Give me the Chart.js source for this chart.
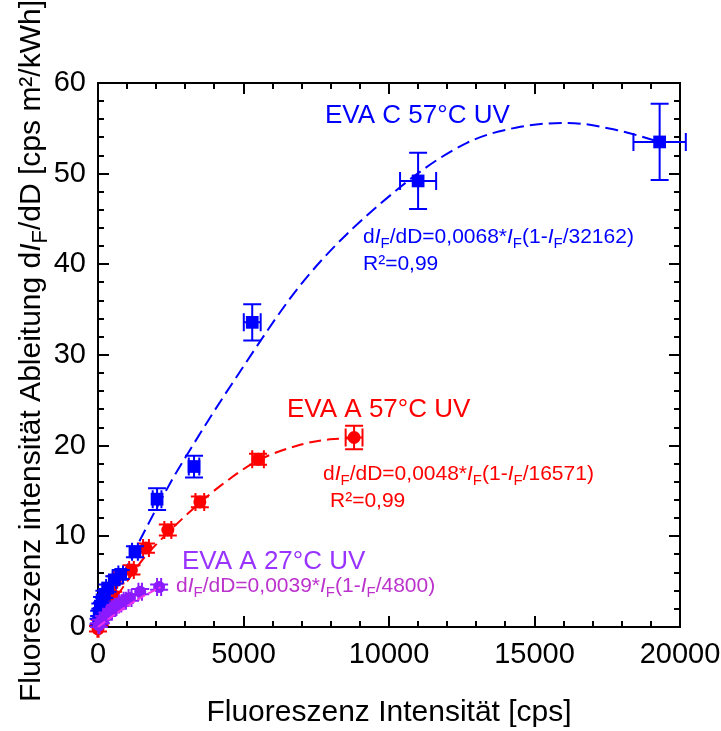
<!DOCTYPE html>
<html>
<head>
<meta charset="utf-8">
<script src="https://cdn.jsdelivr.net/npm/chart.js@4.4.1/dist/chart.umd.min.js"></script>
<style>
  html, body { margin: 0; padding: 0; background: #fff; }
</style>
</head>
<body>
<canvas id="chart" width="721" height="731"></canvas>
<script>
// EVA C 57°C UV (squares)
const blueX = [20, 40, 80, 140, 220, 330, 560, 780, 1270, 2030, 3300, 5300, 11000, 19300];
const blueY = [0.6, 1.5, 2.3, 3.0, 3.6, 4.3, 5.2, 5.8, 8.3, 14.1, 17.7, 33.6, 49.2, 53.5];
const blueXErr = [10, 15, 20, 30, 40, 50, 60, 80, 100, 150, 180, 290, 620, 900];
const blueYErr = [0.3, 0.3, 0.3, 0.3, 0.4, 0.4, 0.4, 0.5, 0.6, 1.2, 1.2, 2.0, 3.1, 4.2];

// EVA A 57°C UV (circles)
const redX = [0, 60, 170, 300, 520, 600, 1150, 1650, 2400, 3500, 5500, 8800];
const redY = [-0.2, 0.5, 1.2, 2.1, 3.5, 5.2, 6.3, 8.7, 10.7, 13.8, 18.5, 20.9];
const redXErr = [20, 20, 30, 40, 50, 60, 80, 100, 120, 150, 200, 290];
const redYErr = [0.3, 0.3, 0.3, 0.3, 0.4, 0.4, 0.5, 0.5, 0.6, 0.6, 0.6, 1.3];

// EVA A 27°C UV (circles)
const purpleX = [30, 100, 200, 320, 450, 600, 760, 920, 1100, 1450, 2100];
const purpleY = [0.2, 0.6, 1.0, 1.4, 1.8, 2.2, 2.6, 2.9, 3.2, 3.9, 4.4];
const purpleXErr = [20, 20, 25, 30, 30, 35, 40, 40, 50, 60, 70];
const purpleYErr = [0.2, 0.2, 0.2, 0.2, 0.2, 0.25, 0.25, 0.25, 0.3, 0.3, 0.3];

// fitted curves
const blueFitX = [0, 1100, 2470, 3060, 4640, 7180, 10380, 12680, 14400, 16120, 17840, 19300];
const blueFitY = [0, 7.4, 15.8, 19.0, 27.0, 38.6, 48.5, 53.4, 55.1, 55.6, 54.8, 53.5];
const redFitX = [0, 650, 1170, 1550, 2370, 3500, 4260, 5460, 6840, 7970, 8800];
const redFitY = [0, 3.4, 5.8, 7.5, 10.3, 13.7, 15.7, 18.3, 20.0, 20.7, 20.8];
const purpleFitX = [0, 500, 1000, 1500, 2150];
const purpleFitY = [0, 1.2, 2.3, 3.3, 4.4];

const FAM = '"Liberation Sans", Arial, sans-serif';

const zip = (xs, ys) => xs.map((x, i) => ({ x: x, y: ys[i] }));

const curve = (xs, ys, color, dash, order) => ({
    type: 'line',
    data: zip(xs, ys),
    borderColor: color,
    borderWidth: 2,
    borderDash: dash,
    pointRadius: 0,
    fill: false,
    cubicInterpolationMode: 'monotone',
    clip: false,
    order: order
});

const points = (xs, ys, ex, ey, color, style, r, order) => ({
    type: 'scatter',
    data: zip(xs, ys),
    errX: ex,
    errY: ey,
    backgroundColor: color,
    borderColor: color,
    borderWidth: 0,
    pointStyle: style,
    pointRadius: r,
    clip: false,
    order: order
});

// draws text with italic / subscript runs
function drawRuns(ctx, runs, x, y, size, color, align) {
    const subSize = Math.round(size * 0.72);
    const fontFor = st => st === 'i' ? `italic ${size}px ${FAM}` : st === 's' ? `${subSize}px ${FAM}` : `${size}px ${FAM}`;
    let total = 0;
    runs.forEach(([t, st]) => { ctx.font = fontFor(st); total += ctx.measureText(t).width; });
    let cx = align === 'center' ? x - total / 2 : x;
    ctx.fillStyle = color;
    ctx.textAlign = 'left';
    ctx.textBaseline = 'alphabetic';
    runs.forEach(([t, st]) => {
        ctx.font = fontFor(st);
        ctx.fillText(t, cx, st === 's' ? y + size * 0.22 : y);
        cx += ctx.measureText(t).width;
    });
}

const formula = (k, cap) => [
    ['d', ''], ['I', 'i'], ['F', 's'], ['/dD=' + k + '*', ''], ['I', 'i'], ['F', 's'],
    ['(1-', ''], ['I', 'i'], ['F', 's'], ['/' + cap + ')', '']
];

const errorBars = {
    id: 'errorBars',
    beforeDatasetDraw(chart, args) {
        const ds = chart.data.datasets[args.index];
        if (!ds.errX) return;
        const { ctx, scales: { x, y } } = chart;
        const cap = 9;
        ctx.save();
        ctx.strokeStyle = ds.borderColor;
        ctx.lineWidth = 2;
        ds.data.forEach((p, i) => {
            const px = x.getPixelForValue(p.x);
            const py = y.getPixelForValue(p.y);
            const x0 = x.getPixelForValue(p.x - ds.errX[i]);
            const x1 = x.getPixelForValue(p.x + ds.errX[i]);
            const y0 = y.getPixelForValue(p.y - ds.errY[i]);
            const y1 = y.getPixelForValue(p.y + ds.errY[i]);
            ctx.beginPath();
            ctx.moveTo(x0, py); ctx.lineTo(x1, py);
            ctx.moveTo(px, y0); ctx.lineTo(px, y1);
            ctx.moveTo(x0, py - cap); ctx.lineTo(x0, py + cap);
            ctx.moveTo(x1, py - cap); ctx.lineTo(x1, py + cap);
            ctx.moveTo(px - cap, y0); ctx.lineTo(px + cap, y0);
            ctx.moveTo(px - cap, y1); ctx.lineTo(px + cap, y1);
            ctx.stroke();
        });
        ctx.restore();
    }
};

// box frame with inward ticks on all four sides
const frame = {
    id: 'frame',
    beforeDatasetsDraw(chart) {
        const { ctx, chartArea: a, scales: { x, y } } = chart;
        ctx.save();
        ctx.strokeStyle = '#000';
        ctx.lineWidth = 2;
        ctx.strokeRect(a.left, a.top, a.right - a.left, a.bottom - a.top);
        ctx.beginPath();
        for (let v = 0; v <= 20000; v += 1000) {
            const px = Math.round(x.getPixelForValue(v));
            const len = v % 5000 === 0 ? 11 : 6;
            ctx.moveTo(px, a.bottom); ctx.lineTo(px, a.bottom - len);
            ctx.moveTo(px, a.top); ctx.lineTo(px, a.top + len);
        }
        for (let v = 0; v <= 60; v += 2) {
            const py = Math.round(y.getPixelForValue(v));
            const len = v % 10 === 0 ? 11 : 6;
            ctx.moveTo(a.left, py); ctx.lineTo(a.left + len, py);
            ctx.moveTo(a.right, py); ctx.lineTo(a.right - len, py);
        }
        ctx.stroke();
        ctx.restore();
    }
};

const labels = {
    id: 'labels',
    afterDraw(chart) {
        const ctx = chart.ctx;
        ctx.save();
        drawRuns(ctx, [['Fluoreszenz Intensität [cps]', '']], 389, 721, 30, '#000', 'center');

        ctx.save();
        ctx.translate(40, 351);
        ctx.rotate(-Math.PI / 2);
        drawRuns(ctx, [['Fluoreszenz intensität Ableitung d', ''], ['I', 'i'], ['F', 's'], ['/dD [cps m²/kWh]', '']], 0, 0, 30, '#000', 'center');
        ctx.restore();

        drawRuns(ctx, [['EVA C 57°C UV', '']], 325, 123, 26, '#0000ff');
        drawRuns(ctx, formula('0,0068', '32162'), 363, 243, 21, '#0000ff');
        drawRuns(ctx, [['R²=0,99', '']], 363, 270, 21, '#0000ff');

        drawRuns(ctx, [['EVA A 57°C UV', '']], 287, 417, 26, '#ff0000');
        drawRuns(ctx, formula('0,0048', '16571'), 323, 480, 21, '#ff0000');
        drawRuns(ctx, [['R²=0,99', '']], 330, 507, 21, '#ff0000');

        drawRuns(ctx, [['EVA A 27°C UV', '']], 182, 569, 26, '#9933ff');
        drawRuns(ctx, formula('0,0039', '4800'), 176, 592, 21, '#bb33cc');
        ctx.restore();
    }
};

const tickFont = { family: FAM, size: 29 };

new Chart(document.getElementById('chart'), {
    data: {
        datasets: [
            points(blueX, blueY, blueXErr, blueYErr, '#0000ff', 'rect', 9, 2),
            points(redX, redY, redXErr, redYErr, '#ff0000', 'circle', 6.5, 3),
            points(purpleX, purpleY, purpleXErr, purpleYErr, '#8c1aff', 'circle', 6, 1),
            curve(blueFitX, blueFitY, '#0000ff', [13, 6], 4),
            curve(redFitX, redFitY, '#ff0000', [12, 6], 5),
            curve(purpleFitX, purpleFitY, '#ee33ee', [9, 3], 0)
        ]
    },
    options: {
        responsive: false,
        animation: false,
        layout: { padding: { top: 83, right: 41, left: 0, bottom: 0 } },
        plugins: { legend: { display: false }, tooltip: { enabled: false } },
        scales: {
            x: {
                type: 'linear',
                min: 0,
                max: 20000,
                afterFit: s => { s.height = 104; s.paddingLeft = 0; s.paddingRight = 0; },
                grid: { display: false, drawTicks: false },
                border: { display: false },
                ticks: { stepSize: 5000, font: tickFont, color: '#000', padding: 11, maxRotation: 0, callback: v => String(v) }
            },
            y: {
                type: 'linear',
                min: 0,
                max: 60,
                afterFit: s => { s.width = 98; s.paddingTop = 0; s.paddingBottom = 0; },
                grid: { display: false, drawTicks: false },
                border: { display: false },
                ticks: { stepSize: 10, font: tickFont, color: '#000', padding: 12, callback: v => String(v) }
            }
        }
    },
    plugins: [frame, errorBars, labels]
});
</script>
</body>
</html>
